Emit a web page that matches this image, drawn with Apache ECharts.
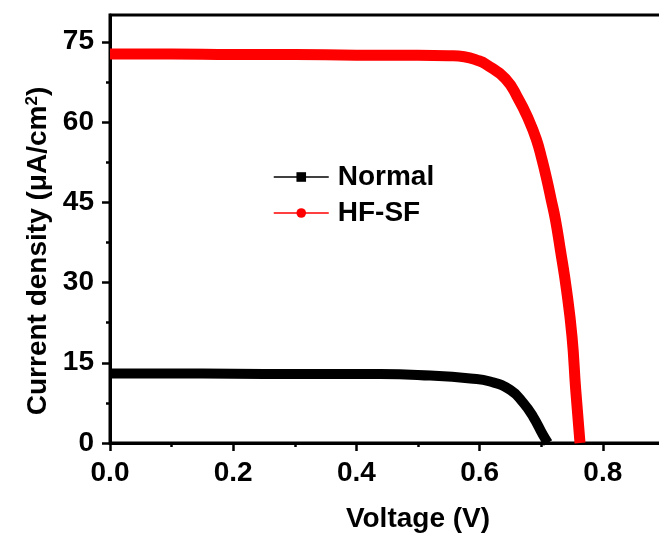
<!DOCTYPE html>
<html>
<head>
<meta charset="utf-8">
<script src="https://cdn.jsdelivr.net/npm/echarts@6/dist/echarts.min.js"></script>
<style>html,body{margin:0;padding:0;background:#fff;}#c{width:659px;height:533px;}</style>
</head>
<body>
<div id="c"></div>
<script>
// Data
var normalV = [0, 0.1, 0.2, 0.3, 0.439, 0.52, 0.585, 0.617, 0.65, 0.671, 0.687, 0.703, 0.711];
var normalJ = [13.0, 13.0, 12.95, 12.9, 12.9, 12.6, 12.06, 11.5, 9.9, 7.5, 4.9, 1.5, 0];
var hfsfV = [0, 0.1, 0.2, 0.3, 0.4, 0.5, 0.55, 0.575, 0.6, 0.609, 0.642, 0.663, 0.679, 0.692, 0.701, 0.709, 0.716, 0.723, 0.731, 0.741, 0.750, 0.756, 0.763];
var hfsfJ = [72.7, 72.7, 72.6, 72.6, 72.5, 72.5, 72.4, 72.2, 71.4, 70.9, 68.1, 64.3, 60.6, 56.8, 53.1, 49.3, 45.6, 41.8, 36.2, 28.7, 19.9, 10.0, 0];
var seriesNames = ['Normal', 'HF-SF'];
var yMajorTicks = [0, 15, 30, 45, 60, 75];
var yMinorTicks = [7.5, 22.5, 37.5, 52.5, 67.5];

function pairs(xs, ys) { return xs.map(function (x, i) { return [x, ys[i]]; }); }

var FONT = '"Liberation Sans", Arial, sans-serif';
var chart = echarts.init(document.getElementById('c'), null, { renderer: 'canvas' });
chart.setOption({
  animation: false,
  backgroundColor: '#fff',
  textStyle: { fontFamily: FONT },
  grid: { left: 110, top: 15, right: -67, bottom: 90, show: true, borderColor: '#000', borderWidth: 3,
    outerBoundsMode: 'none', containLabel: false },
  legend: {
    orient: 'vertical',
    left: 268, top: 158,
    itemWidth: 55, itemHeight: 12, itemGap: 8,
    lineStyle: { width: 1.5 },
    textStyle: { fontFamily: FONT, fontSize: 28, fontWeight: 'bold', color: '#000', padding: [0, 0, 0, 4] },
    data: seriesNames
  },
  xAxis: {
    type: 'value', min: 0, max: 1.0, interval: 0.2,
    name: 'Voltage (V)', nameLocation: 'middle', nameGap: 62,
    nameTextStyle: { fontFamily: FONT, fontSize: 28, fontWeight: 'bold', color: '#000' },
    axisLine: { lineStyle: { color: '#000', width: 3 } },
    axisTick: { show: true, inside: false, length: 8, lineStyle: { color: '#000', width: 2.5 } },
    minorTick: { show: true, splitNumber: 2, length: 4, lineStyle: { color: '#000', width: 2.5 } },
    splitLine: { show: false },
    axisLabel: { fontFamily: FONT, fontSize: 28, fontWeight: 'bold', color: '#000', margin: 16,
      formatter: function (v) { return v.toFixed(1); } }
  },
  yAxis: [{
    type: 'value', min: 0, max: 80, interval: 15,
    name: 'Current density (\u03bcA/cm{sup|2})', nameLocation: 'middle', nameGap: 55,
    nameTextStyle: { fontFamily: FONT, fontSize: 28, fontWeight: 'bold', color: '#000', padding: [0, 44, 0, 0],
      rich: { sup: { fontFamily: FONT, fontSize: 17, fontWeight: 'bold', color: '#000', verticalAlign: 'top', padding: [0, 0, 12, 0] } } },
    axisLine: { lineStyle: { color: '#000', width: 3 } },
    axisTick: { show: true, inside: false, length: 8, lineStyle: { color: '#000', width: 2.5 }, customValues: yMajorTicks },
    minorTick: { show: false },
    splitLine: { show: false },
    axisLabel: { fontFamily: FONT, fontSize: 28, fontWeight: 'bold', color: '#000', margin: 16, customValues: yMajorTicks }
  }, {
    type: 'value', min: 0, max: 80, interval: 15, position: 'left',
    axisLine: { show: false },
    axisTick: { show: true, inside: false, length: 4, lineStyle: { color: '#000', width: 2.5 }, customValues: yMinorTicks },
    axisLabel: { show: false },
    splitLine: { show: false }
  }],
  series: [{
    name: seriesNames[0], type: 'line', yAxisIndex: 0,
    data: pairs(normalV, normalJ),
    symbol: 'rect', showSymbol: false, smooth: 0.5,
    itemStyle: { color: '#000' },
    lineStyle: { color: '#000', width: 10, join: 'round', cap: 'butt' }
  }, {
    name: seriesNames[1], type: 'line', yAxisIndex: 0,
    data: pairs(hfsfV, hfsfJ),
    symbol: 'circle', showSymbol: false, smooth: 0.5,
    itemStyle: { color: '#ff0000' },
    lineStyle: { color: '#ff0000', width: 11, join: 'round', cap: 'butt' }
  }]
});
</script>
</body>
</html>
